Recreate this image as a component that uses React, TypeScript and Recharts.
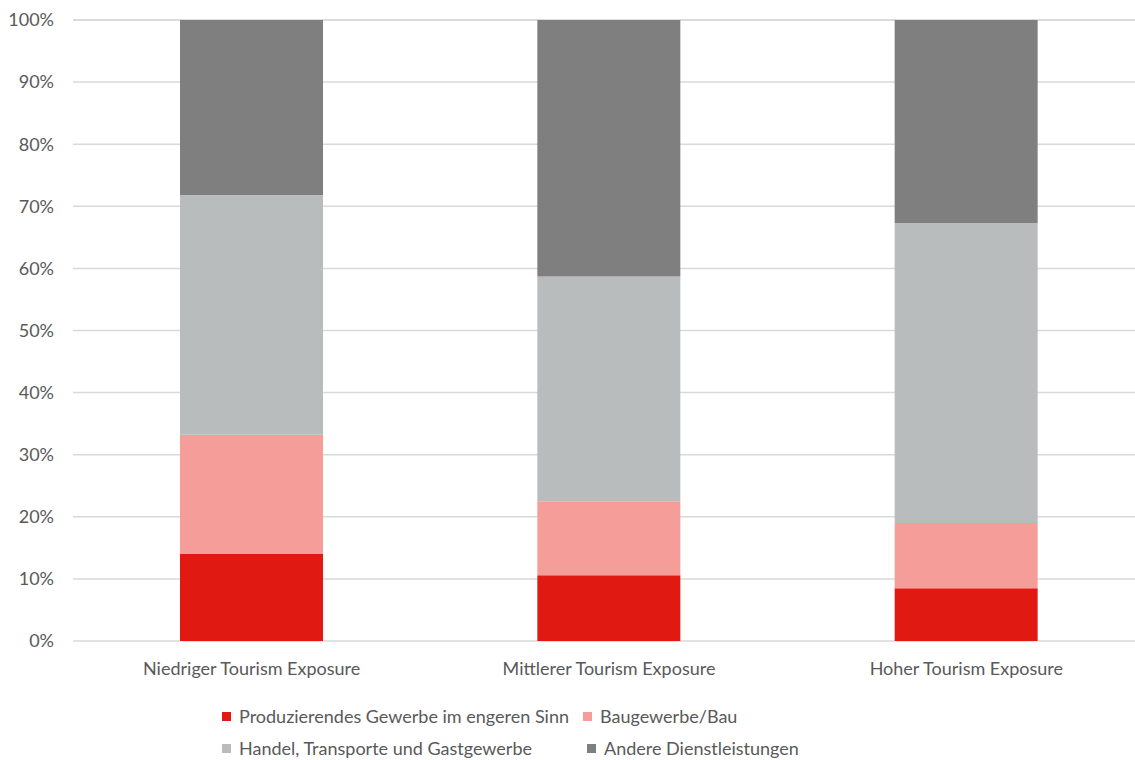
import { BarChart, Bar, XAxis, YAxis, CartesianGrid, Legend } from "recharts"

const categories = ["Niedriger Tourism Exposure", "Mittlerer Tourism Exposure", "Hoher Tourism Exposure"]
const produzierendes = [14.0, 10.6, 8.5]
const bau = [19.2, 11.9, 10.5]
const handel = [38.6, 36.2, 48.3]
const andere = [28.2, 41.3, 32.7]
const yTicks = [0, 10, 20, 30, 40, 50, 60, 70, 80, 90, 100]

const series = [
  { key: "prod", name: "Produzierendes Gewerbe im engeren Sinn", color: "#E01A12" },
  { key: "bau", name: "Baugewerbe/Bau", color: "#F59E99" },
  { key: "handel", name: "Handel, Transporte und Gastgewerbe", color: "#B9BCBC" },
  { key: "andere", name: "Andere Dienstleistungen", color: "#7F7F7F" },
]

const data = categories.map((name, i) => ({
  name,
  prod: produzierendes[i],
  bau: bau[i],
  handel: handel[i],
  andere: andere[i],
}))

const FONT = "Lato, 'Liberation Sans', sans-serif"
const TEXT = "#595959"

// legend items sit like excel's: two rows, second column not aligned
const legendPos = [
  { left: 222, top: 25 },
  { left: 583, top: 25 },
  { left: 222, top: 57 },
  { left: 587, top: 57 },
]

function renderLegend() {
  return (
    <div style={{ position: "relative", width: 1150, height: 79, fontFamily: FONT, fontSize: 18, color: TEXT }}>
      {series.map((s, i) => (
        <div
          key={s.key}
          style={{
            position: "absolute",
            left: legendPos[i].left,
            top: legendPos[i].top,
            display: "flex",
            alignItems: "center",
            whiteSpace: "nowrap",
            lineHeight: "20px",
          }}
        >
          <span style={{ display: "inline-block", width: 9, height: 9, background: s.color, marginRight: 8 }} />
          <span>{s.name}</span>
        </div>
      ))}
    </div>
  )
}

export default function App() {
  return (
    <div style={{ position: "absolute", left: 0, top: 0, width: 1135, height: 760, overflow: "hidden", background: "#fff" }}>
      <BarChart width={1150} height={760} data={data} margin={{ top: 20, right: 5, bottom: 0, left: 0 }} barSize={143}>
        <CartesianGrid vertical={false} stroke="#D9D9D9" strokeWidth={1.5} />
        <XAxis
          dataKey="name"
          axisLine={false}
          tickLine={false}
          tickSize={0}
          tickMargin={21}
          height={40}
          interval={0}
          tick={{ fill: TEXT, fontSize: 18, fontFamily: FONT }}
        />
        <YAxis
          domain={[0, 100]}
          ticks={yTicks}
          tickFormatter={(v) => `${v}%`}
          axisLine={false}
          tickLine={false}
          tickSize={0}
          tickMargin={19}
          width={73}
          tick={{ fill: TEXT, fontSize: 18, fontFamily: FONT }}
        />
        <Legend verticalAlign="bottom" content={renderLegend} wrapperStyle={{ left: 0, width: 1150, height: 79 }} />
        {series.map((s) => (
          <Bar key={s.key} dataKey={s.key} name={s.name} stackId="a" fill={s.color} isAnimationActive={false} />
        ))}
      </BarChart>
    </div>
  )
}
